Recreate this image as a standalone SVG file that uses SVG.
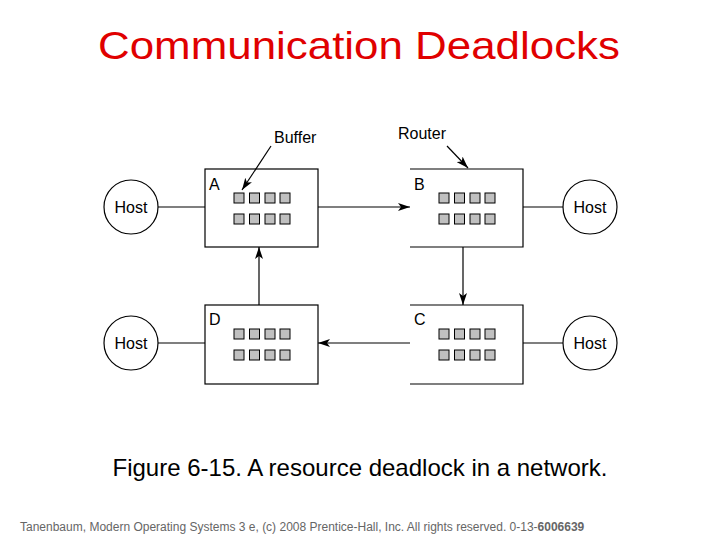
<svg xmlns="http://www.w3.org/2000/svg" width="720" height="540" viewBox="0 0 720 540">
<style>
.l{stroke:#000;stroke-width:1.2;fill:none}
.b{fill:#c0c0c0;stroke:#000;stroke-width:1}
.h{fill:#fff;stroke:#000;stroke-width:1.2}
text{font-family:"Liberation Sans",Arial,sans-serif}
.t{font-size:16px}
</style>
<defs>
<marker id="a" viewBox="0 0 12 8" refX="12" refY="4" markerWidth="12" markerHeight="8" markerUnits="userSpaceOnUse" orient="auto"><path d="M0,0L12,4L0,8L3,4z" fill="#000"/></marker>
<g id="buf"><rect class="b" x="0" y="0" width="10" height="10"/><rect class="b" x="15.5" y="0" width="10" height="10"/><rect class="b" x="31" y="0" width="10" height="10"/><rect class="b" x="46" y="0" width="10" height="10"/><rect class="b" x="0" y="21" width="10" height="10"/><rect class="b" x="15.5" y="21" width="10" height="10"/><rect class="b" x="31" y="21" width="10" height="10"/><rect class="b" x="46" y="21" width="10" height="10"/></g>
</defs>
<rect width="720" height="540" fill="#fff"/>
<text x="359" y="59" font-size="39" fill="#e00000" text-anchor="middle" textLength="522" lengthAdjust="spacingAndGlyphs">Communication Deadlocks</text>
<text class="t" x="274" y="143">Buffer</text>
<text class="t" x="398" y="139">Router</text>
<g id="A"><rect class="h" x="205" y="169" width="113" height="78"/><text class="t" x="209" y="190">A</text><use href="#buf" x="234" y="193"/></g>
<g id="B"><path class="l" d="M410,169H523V247H410"/><text class="t" x="414" y="190">B</text><use href="#buf" x="439" y="193"/></g>
<g id="D"><rect class="h" x="205" y="305" width="113" height="79"/><text class="t" x="209" y="325">D</text><use href="#buf" x="234" y="329"/></g>
<g id="C"><path class="l" d="M410,305H523V384H410"/><text class="t" x="414" y="325">C</text><use href="#buf" x="439" y="329"/></g>
<g id="hostA"><circle class="h" cx="131" cy="207" r="27"/><text class="t" x="131" y="213" text-anchor="middle">Host</text></g>
<g id="hostB"><circle class="h" cx="590" cy="207" r="27"/><text class="t" x="590" y="213" text-anchor="middle">Host</text></g>
<g id="hostD"><circle class="h" cx="131" cy="343" r="27"/><text class="t" x="131" y="349" text-anchor="middle">Host</text></g>
<g id="hostC"><circle class="h" cx="590" cy="343" r="27"/><text class="t" x="590" y="349" text-anchor="middle">Host</text></g>
<g id="connectors">
<line class="l" x1="158" y1="207" x2="205" y2="207"/>
<line class="l" x1="318" y1="207" x2="410" y2="207" marker-end="url(#a)"/>
<line class="l" x1="523" y1="207" x2="563" y2="207"/>
<line class="l" x1="463" y1="247" x2="463" y2="305" marker-end="url(#a)"/>
<line class="l" x1="410" y1="343" x2="318" y2="343" marker-end="url(#a)"/>
<line class="l" x1="259" y1="305" x2="259" y2="247" marker-end="url(#a)"/>
<line class="l" x1="158" y1="343" x2="205" y2="343"/>
<line class="l" x1="523" y1="343" x2="563" y2="343"/>
<line class="l" x1="271" y1="146" x2="242" y2="190" marker-end="url(#a)"/>
<line class="l" x1="447" y1="146" x2="468" y2="168" marker-end="url(#a)"/>
</g>
<text x="360" y="476" font-size="24" text-anchor="middle">Figure 6-15. A resource deadlock in a network.</text>
<text x="20" y="531" font-size="12" fill="#666">Tanenbaum, Modern Operating Systems 3 e, (c) 2008 Prentice-Hall, Inc. All rights reserved. 0-13-<tspan font-weight="bold">6006639</tspan></text>
</svg>
